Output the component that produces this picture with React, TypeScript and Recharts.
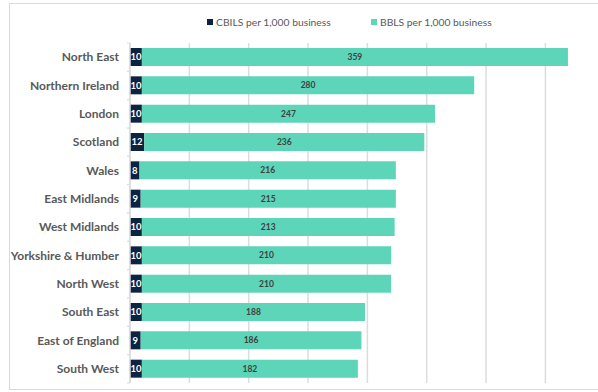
import { Bar, BarChart, CartesianGrid, LabelList, XAxis, YAxis } from "recharts";

const REGIONS = [
  "North East",
  "Northern Ireland",
  "London",
  "Scotland",
  "Wales",
  "East Midlands",
  "West Midlands",
  "Yorkshire & Humber",
  "North West",
  "South East",
  "East of England",
  "South West",
];
const CBILS = [10, 10, 10, 12, 8, 9, 10, 10, 10, 10, 9, 10];
const BBLS = [359, 280, 247, 236, 216, 215, 213, 210, 210, 188, 186, 182];
const X_TICKS = [0, 50, 100, 150, 200, 250, 300, 350];
const X_MAX = 380;

const NAVY = "#0c2342";
const TEAL = "#5dd5b8";
const GRID = "#dcdcdc";
const TEXT = "#595959";
const FONT = "Lato, 'Open Sans', sans-serif";

const W = 598;
const H = 392;
const MARGIN = { top: 43, right: 17, bottom: 9, left: 0 };
const HALF_BAND = (H - MARGIN.top - MARGIN.bottom) / REGIONS.length / 2;

const data = REGIONS.map((region, i) => ({ region, cbils: CBILS[i], bbls: BBLS[i] }));

// only draw grid lines at the 50-step ticks, not at the domain edge
function gridXs(props: any): number[] {
  const scale = props?.xAxis?.scale;
  if (typeof scale === "function") return X_TICKS.map((t) => scale(t));
  const { left, width } = props.offset;
  return X_TICKS.map((t) => left + (t / X_MAX) * width);
}

// Excel style: label right aligned, tick marks sit between categories
function RegionTick(props: any) {
  const { x, y, payload } = props;
  return (
    <g>
      <line x1={x - 3} x2={x} y1={y - HALF_BAND} y2={y - HALF_BAND} stroke={GRID} />
      <line x1={x - 3} x2={x} y1={y + HALF_BAND} y2={y + HALF_BAND} stroke={GRID} />
      <text
        x={x - 11}
        y={y}
        dy={4}
        textAnchor="end"
        fill={TEXT}
        style={{ fontSize: 12, fontWeight: 700, fontFamily: FONT }}
      >
        {payload.value}
      </text>
    </g>
  );
}

function LegendRow() {
  const item = (color: string, label: string, left: number) => (
    <div style={{ position: "absolute", left, top: 16, display: "flex", alignItems: "center" }}>
      <span style={{ width: 6, height: 6, background: color, marginRight: 3, display: "inline-block" }} />
      <span style={{ fontSize: 10.3, color: TEXT, fontFamily: FONT, whiteSpace: "nowrap" }}>{label}</span>
    </div>
  );
  return (
    <>
      {item(NAVY, "CBILS per 1,000 business", 207)}
      {item(TEAL, "BBLS per 1,000 business", 371)}
    </>
  );
}

export default function App() {
  return (
    <div
      style={{
        position: "absolute",
        left: 0,
        top: 0,
        width: W,
        height: H,
        overflow: "hidden",
        background: "#fff",
      }}
    >
      <div
        style={{
          position: "absolute",
          left: 9,
          top: 3,
          width: 700,
          height: 385,
          border: "1px solid #d9d9d9",
        }}
      />
      <LegendRow />
      <div style={{ position: "absolute", left: 0, top: 0 }}>
        <BarChart width={W} height={H} data={data} layout="vertical" margin={MARGIN} barSize={18}>
          <CartesianGrid
            horizontal={false}
            stroke={GRID}
            strokeWidth={1.5}
            verticalCoordinatesGenerator={gridXs}
          />
          <XAxis type="number" domain={[0, X_MAX]} ticks={X_TICKS} hide />
          <YAxis
            type="category"
            dataKey="region"
            width={130}
            tickSize={0}
            tickMargin={0}
            tickLine={false}
            axisLine={{ stroke: GRID, strokeWidth: 1.5 }}
            tick={<RegionTick />}
            interval={0}
          />
          <Bar dataKey="cbils" stackId="a" fill={NAVY} isAnimationActive={false}>
            <LabelList
              dataKey="cbils"
              position="center"
              style={{ fontSize: 9.5, fontWeight: 700, fill: "#ffffff", fontFamily: FONT }}
            />
          </Bar>
          <Bar dataKey="bbls" stackId="a" fill={TEAL} isAnimationActive={false}>
            <LabelList
              dataKey="bbls"
              position="center"
              style={{ fontSize: 8.5, fontWeight: 700, fill: "#404040", fontFamily: FONT }}
            />
          </Bar>
        </BarChart>
      </div>
    </div>
  );
}
